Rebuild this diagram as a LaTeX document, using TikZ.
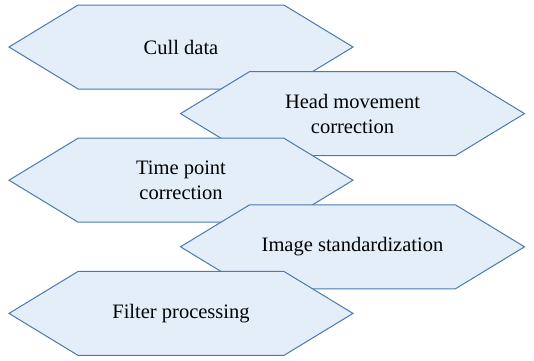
\documentclass[tikz,border=0pt]{standalone}
\usepackage{fontspec}
\setmainfont{Liberation Serif}
\usetikzlibrary{shapes.symbols}
\definecolor{stagefill}{HTML}{E3EEF9}
\definecolor{stageline}{HTML}{4A7AB0}
\tikzset{
	x=1pt, y=-1pt, % one unit is one pixel of the layout
	stage/.style={shape=signal, signal to=west and east, % hexagon with pointed ends
		signal pointer angle=62.6, draw=stageline, fill=stagefill, line width=1pt,
		minimum width=344pt, minimum height=84pt, inner sep=0pt,
		align=center, font=\fontsize{20.5}{25}\selectfont}
}

\begin{document}
\begin{tikzpicture}
	\useasboundingbox (0,0) rectangle (534,360);
	\node[stage] (cull) at (181,47) {Cull data};
	\node[stage] (head) at ([shift={(171.5pt,-66.6pt)}]cull) {Head movement\\correction};
	\node[stage] (time) at ([shift={(-171.5pt,-66.6pt)}]head) {Time point\\correction};
	\node[stage] (std) at ([shift={(171.5pt,-66.6pt)}]time) {Image standardization};
	\node[stage] (filt) at ([shift={(-171.5pt,-66.6pt)}]std) {Filter processing};
\end{tikzpicture}
\end{document}
